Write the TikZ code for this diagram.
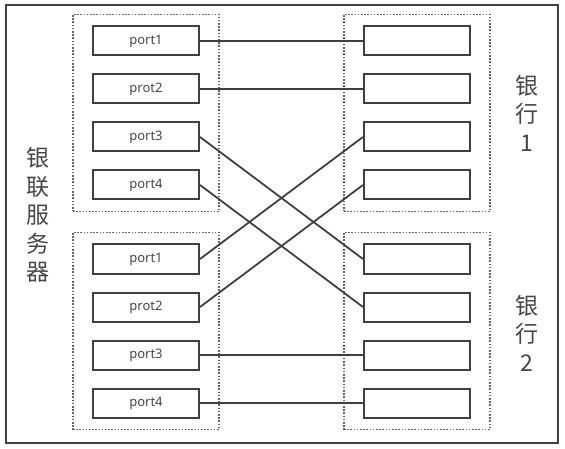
\documentclass[tikz,border=0pt]{standalone}
\usepackage{fontspec}
\setsansfont{Noto Sans}
\newfontfamily\cjk{Noto Sans CJK SC}
\usetikzlibrary{positioning, fit}
\definecolor{LineGray}{RGB}{64,64,64}
\definecolor{DotGray}{RGB}{100,100,100}
\definecolor{TextGray}{RGB}{70,70,70}

\begin{document}
\begin{tikzpicture}[x=1pt, y=-1pt,
          port/.style={rectangle, draw=LineGray, line width=2pt,
                       minimum width=106pt, minimum height=29pt, inner sep=0pt,
                       font=\sffamily\fontsize{13}{13}\selectfont, text=TextGray},
          grp/.style={draw=DotGray, line width=1.6pt,
                      dash pattern=on 1.6pt off 1.6pt,
                      inner xsep=19pt, inner ysep=11pt},
          link/.style={draw=LineGray, line width=1.8pt},
          lbl/.style={font=\cjk\fontsize{23}{28.5}\selectfont, text=TextGray,
                      align=center}
        ]
        \useasboundingbox (0,0) rectangle (565,449);
        \draw[LineGray, line width=2pt] (6,5) rectangle (558,443);

        % server ports and bank ports
        \foreach \i/\t/\y in {1/port1/41, 2/prot2/89, 3/port3/137, 4/port4/185} {
          \node[port] (srvA\i) at (146,\y) {\t};
          \node[port] (bankA\i) at (417,\y) {};
        }
        \foreach \i/\t/\y in {1/port1/259, 2/prot2/307, 3/port3/355, 4/port4/403} {
          \node[port] (srvB\i) at (146,\y) {\t};
          \node[port] (bankB\i) at (417,\y) {};
        }

        % dotted groups
        \node[grp, fit=(srvA1)(srvA4)] (srvgrpA) {};
        \node[grp, fit=(srvB1)(srvB4)] (srvgrpB) {};
        \node[grp, fit=(bankA1)(bankA4)] (bankgrpA) {};
        \node[grp, fit=(bankB1)(bankB4)] (bankgrpB) {};

        % links
        \foreach \s/\b in {srvA1/bankA1, srvA2/bankA2, srvA3/bankB1, srvA4/bankB2,
                           srvB1/bankA3, srvB2/bankA4, srvB3/bankB3, srvB4/bankB4} {
          \draw[link] (\s.east) -- (\b.west);
        }

        \node[lbl] (srvlbl) at (38,215) {银\\联\\服\\务\\器};
        \node[lbl] (banklblA) at (527,113) {银\\行\\1};
        \node[lbl] (banklblB) at (527,333) {银\\行\\2};
      \end{tikzpicture}
\end{document}
